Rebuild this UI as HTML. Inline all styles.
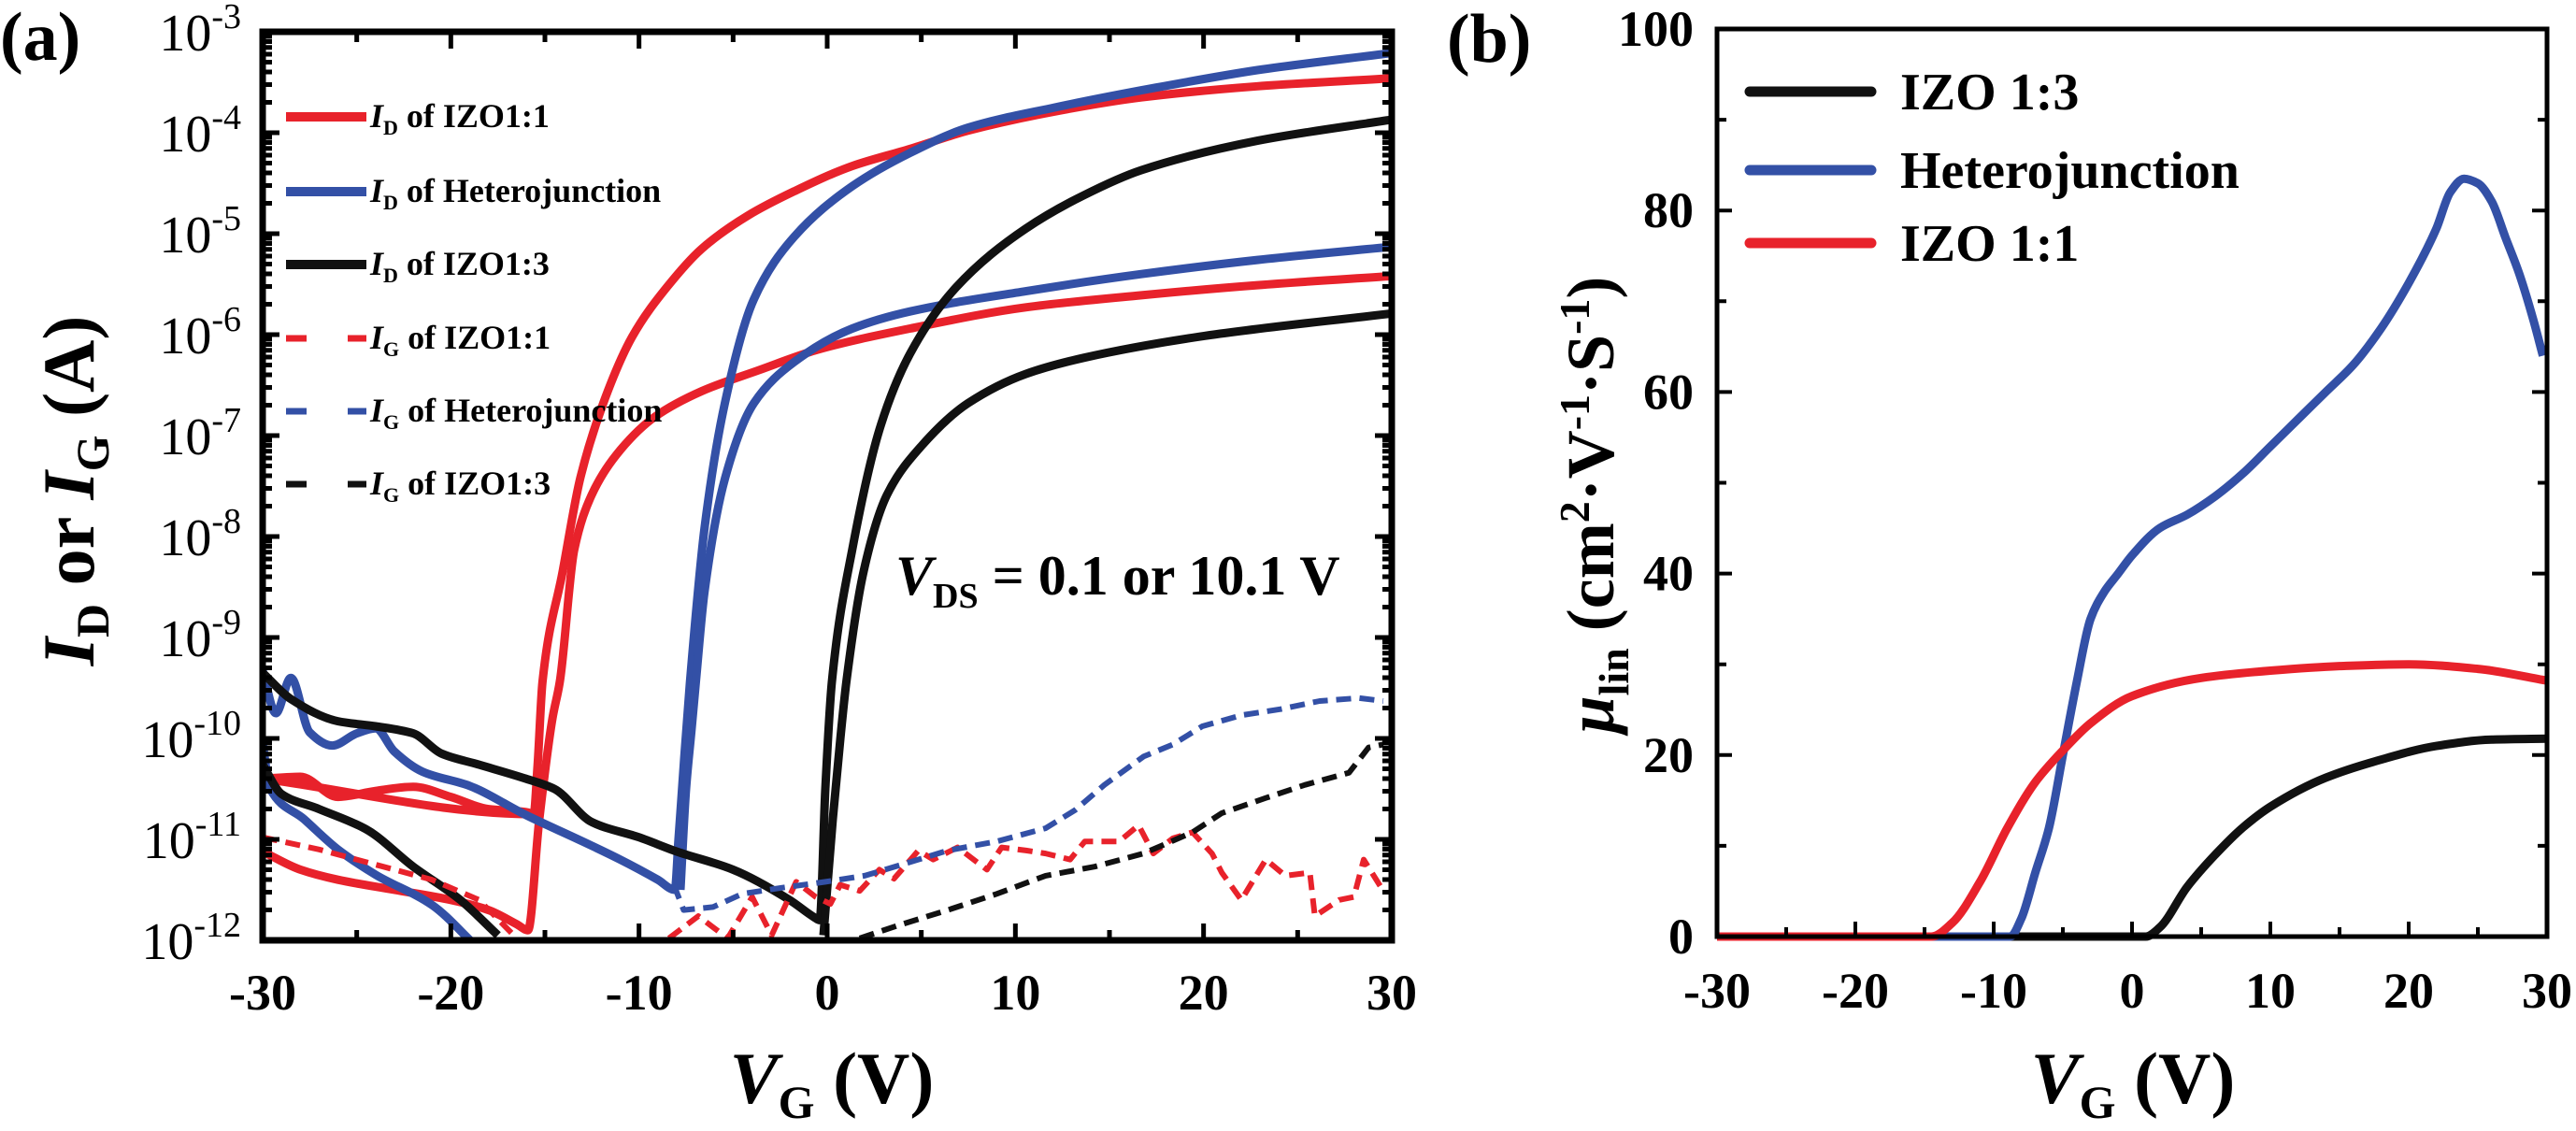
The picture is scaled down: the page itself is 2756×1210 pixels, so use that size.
<!DOCTYPE html>
<html><head><meta charset="utf-8">
<style>
html,body{margin:0;padding:0;background:#fff;}
svg, svg text{font-family:"Liberation Serif",serif;font-weight:bold;}
</style></head>
<body>
<svg id="fig" width="2756" height="1210" viewBox="0 0 2756 1210" xmlns="http://www.w3.org/2000/svg" style="position:absolute;left:0;top:0;font-family:'Liberation Serif',serif">
  <g id="pa"></g>
  <g id="pb"></g>
</svg>
<script>
// ---------- Panel (a) data: [V_G, log10(I)] ----------
const idIzo11HighV = [-30,-15.6,-15.4,-15.13,-14.05,-13.13,-11.9,-10.36,-8.52,-6.67,-4.21,-1.75,1.33,4.4,7.48,12.09,16.7,22.86,30];
const idIzo11HighL = [-10.4,-10.75,-10.3,-9.44,-8.34,-7.43,-6.68,-6.02,-5.53,-5.15,-4.82,-4.58,-4.33,-4.16,-3.98,-3.79,-3.65,-3.54,-3.46];
const idIzo11OffV = [-30,-28,-26,-24,-22,-20,-18,-16,-15.6];
const idIzo11OffL = [-10.4,-10.38,-10.58,-10.52,-10.48,-10.58,-10.7,-10.73,-10.75];
const idIzo11LowV = [-30,-28,-26,-23,-20,-18,-16.5,-15.9,-15.3,-14.6,-14.21,-13.44,-12.52,-10.98,-9.13,-6.67,-3.6,-0.52,4.4,10.55,16.7,22.86,30];
const idIzo11LowL = [-11.12,-11.3,-11.4,-11.5,-11.6,-11.7,-11.84,-11.9,-10.8,-9.8,-9.44,-8.13,-7.59,-7.14,-6.81,-6.56,-6.35,-6.15,-5.94,-5.73,-5.61,-5.51,-5.42];
const idHetHighV = [-30,-29.3,-28.5,-27.5,-26.3,-25,-24,-23,-21.5,-19,-16,-13,-11,-9,-8.1,-7.9,-7.6,-7.29,-6.52,-5.44,-3.9,-1.75,1.33,4.4,7.48,12.09,16.7,22.86,30];
const idHetHighL = [-9.33,-9.75,-9.4,-9.94,-10.07,-9.95,-9.9,-10.13,-10.33,-10.47,-10.76,-11.02,-11.2,-11.4,-11.5,-11.0,-10.2,-9.44,-7.92,-6.68,-5.65,-5.03,-4.53,-4.2,-3.95,-3.75,-3.58,-3.38,-3.21];
const idHetLowV = [-30,-29.6,-27.8,-26,-24,-21,-18.7];
const idHetLowL = [-10.05,-10.5,-10.8,-11.1,-11.35,-11.65,-12.05];
const idHetLow2V = [-7.8,-7.5,-7.2,-6.98,-6.52,-5.44,-3.9,-1.75,1.33,4.4,10.55,16.7,22.86,30];
const idHetLow2L = [-11.5,-10.5,-9.9,-9.44,-8.55,-7.43,-6.68,-6.27,-5.94,-5.77,-5.57,-5.4,-5.26,-5.13];
const idIzo13HighV = [-30,-28.5,-26,-24,-22,-20.5,-18.5,-16,-14.5,-12.5,-10,-8,-5,-2,-0.7,-0.4,-0.1,0.25,1.33,2.86,4.4,6.86,10.55,13.63,16.7,22.86,30];
const idIzo13HighL = [-9.35,-9.61,-9.83,-9.88,-9.95,-10.15,-10.26,-10.4,-10.5,-10.83,-10.98,-11.12,-11.3,-11.6,-11.77,-11.8,-10.5,-9.44,-8.13,-6.89,-6.19,-5.53,-4.95,-4.62,-4.37,-4.08,-3.87];
const idIzo13LowV = [-30,-29,-27,-24.5,-22,-19.5,-17.5];
const idIzo13LowL = [-10.26,-10.55,-10.7,-10.9,-11.27,-11.6,-11.95];
const idIzo13Low2V = [-0.2,0.3,0.7,1.02,1.94,3.17,5.02,7.48,10.55,13.63,19.78,30];
const idIzo13Low2L = [-11.95,-10.8,-10.0,-9.44,-8.34,-7.59,-7.1,-6.68,-6.39,-6.23,-6.02,-5.79];
const igIzo11V = [-30,-27,-24,-21,-18.5,-16.5,null,-8.41,-6.85,-5.29,-3.99,-2.95,-1.65,-0.61,0.17,0.69,1.73,2.77,3.55,4.85,5.63,6.93,8.49,9.27,10.57,11.61,12.91,13.69,15.51,16.55,17.33,18.37,19.41,20.45,20.97,22.01,23.31,24.35,25.65,25.91,27.21,27.99,28.51,29.55];
const igIzo11L = [-10.98,-11.1,-11.25,-11.4,-11.6,-11.98,null,-11.98,-11.76,-11.98,-11.57,-11.95,-11.42,-11.57,-11.64,-11.45,-11.51,-11.3,-11.39,-11.11,-11.2,-11.08,-11.3,-11.08,-11.11,-11.14,-11.2,-11.02,-11.02,-10.86,-11.14,-10.99,-10.93,-11.14,-11.33,-11.6,-11.2,-11.36,-11.33,-11.76,-11.6,-11.57,-11.2,-11.51];
const igHetV = [-8.15,-7.63,-6.07,-4.51,-2.43,-0.09,1.99,4.33,6.41,9.01,11.61,13.17,14.73,16.81,18.37,19.93,22.01,24.09,26.17,28.25,29.55];
const igHetL = [-11.45,-11.7,-11.67,-11.54,-11.48,-11.42,-11.36,-11.23,-11.11,-11.02,-10.89,-10.71,-10.46,-10.18,-10.06,-9.88,-9.77,-9.71,-9.63,-9.6,-9.63];
const igIzo13V = [1.73,3.81,6.41,9.01,11.61,14.21,16.81,19.41,20.97,23.31,25.39,27.73,28.77,29.55];
const igIzo13L = [-11.98,-11.85,-11.7,-11.54,-11.36,-11.27,-11.14,-10.93,-10.74,-10.59,-10.46,-10.34,-10.09,-10.06];
const xTicksA = [-30,-20,-10,0,10,20,30];
const yExpA = [-3,-4,-5,-6,-7,-8,-9,-10,-11,-12];

// ---------- Panel (b) data ----------
const mobV_Het = [-30,-8.8,-8,-7,-6,-5,-4,-3,-2,-1,0,2,4,6,8,10,12,14,16,18,20,22,23,24,25,26,27,28,29,29.7];
const mob_Het  = [0,0,2,7,12,20,28,35,38,40,42,45,46.5,48.5,51,54,57,60,63,67,72,78,82,83.5,83,81,77,73,68,64];
const mobV_Izo11 = [-30,-14.5,-13,-11,-9,-7,-5,-3,0,5,10,15,20,25,30];
const mob_Izo11  = [0,0,1.5,6,12,17,20.5,23.5,26.5,28.5,29.3,29.8,30,29.5,28.2];
const mobV_Izo13 = [-30,1,2,4,6,8,10,14,18,22,26,30];
const mob_Izo13  = [0,0,1,5.5,9,12,14.3,17.5,19.5,21,21.7,21.8];
const xTicksB = [-30,-20,-10,0,10,20,30];
const yTicksB = [0,20,40,60,80,100];

const NS = 'http://www.w3.org/2000/svg';
function mk(parent, tag, attrs){ const e=document.createElementNS(NS,tag); for(const k in attrs) e.setAttribute(k,attrs[k]); parent.appendChild(e); return e; }
const RED='#e8222b', BLUE='#3350a6', BLACK='#111';
const FONT = "font-family:'Liberation Serif',serif;font-weight:bold";

const A = {x0:281,x1:1489,y0:34,y1:1006};
const ax = v => A.x0 + (v+30)/60*(A.x1-A.x0);
const ay = l => A.y1 - (l+12)/9*(A.y1-A.y0);
const pa = document.getElementById('pa');

function pathFrom(xs, ys, fx, fy){
  let d='', pen=false;
  for(let i=0;i<xs.length;i++){
    if(xs[i]===null){pen=false;continue;}
    d += (pen?'L':'M') + fx(xs[i]).toFixed(1)+','+fy(ys[i]).toFixed(1)+' ';
    pen=true;
  }
  return d;
}
// monotone cubic (Fritsch-Carlson) in pixel space, x increasing
function smoothFrom(xs, ys, fx, fy){
  const X = xs.map(fx), Y = ys.map(fy), n = X.length;
  const dx=[], s=[];
  for(let i=0;i<n-1;i++){ dx.push(X[i+1]-X[i]); s.push((Y[i+1]-Y[i])/dx[i]); }
  const m = new Array(n);
  m[0]=s[0]; m[n-1]=s[n-2];
  for(let i=1;i<n-1;i++){
    if(s[i-1]*s[i]<=0) m[i]=0;
    else { const w1=2*dx[i]+dx[i-1], w2=dx[i]+2*dx[i-1]; m[i]=(w1+w2)/(w1/s[i-1]+w2/s[i]); }
  }
  let d='M'+X[0].toFixed(1)+','+Y[0].toFixed(1);
  for(let i=0;i<n-1;i++){
    const h=dx[i]/3;
    d+=` C${(X[i]+h).toFixed(1)},${(Y[i]+m[i]*h).toFixed(1)} ${(X[i+1]-h).toFixed(1)},${(Y[i+1]-m[i+1]*h).toFixed(1)} ${X[i+1].toFixed(1)},${Y[i+1].toFixed(1)}`;
  }
  return d;
}
const clipA = mk(pa,'clipPath',{id:'clipA'});
mk(clipA,'rect',{x:A.x0,y:A.y0,width:A.x1-A.x0,height:A.y1-A.y0});
const gA = mk(pa,'g',{'clip-path':'url(#clipA)'});
const seriesA = [
  ['id-izo11-high', idIzo11HighV, idIzo11HighL, RED, false],
  ['id-izo11-off', idIzo11OffV, idIzo11OffL, RED, false],
  ['id-izo11-low', idIzo11LowV, idIzo11LowL, RED, false],
  ['id-het-high', idHetHighV, idHetHighL, BLUE, false],
  ['id-het-low-off', idHetLowV, idHetLowL, BLUE, false],
  ['id-het-low', idHetLow2V, idHetLow2L, BLUE, false],
  ['id-izo13-high', idIzo13HighV, idIzo13HighL, BLACK, false],
  ['id-izo13-low-off', idIzo13LowV, idIzo13LowL, BLACK, false],
  ['id-izo13-low', idIzo13Low2V, idIzo13Low2L, BLACK, false],
  ['ig-izo11', igIzo11V, igIzo11L, RED, true],
  ['ig-het', igHetV, igHetL, BLUE, true],
  ['ig-izo13', igIzo13V, igIzo13L, BLACK, true]
];
seriesA.forEach(s=>{
  const d = s[4] ? pathFrom(s[1],s[2],ax,ay) : smoothFrom(s[1],s[2],ax,ay);
  const p = mk(gA,'path',{d:d,fill:'none',stroke:s[3],'stroke-width':s[4]?6:9,'stroke-linejoin':'round','stroke-dasharray':s[4]?'16 9':'none'});
  
  
});
const frA = mk(pa,'rect',{x:A.x0,y:A.y0,width:A.x1-A.x0,height:A.y1-A.y0,fill:'none',stroke:'#000','stroke-width':7});
 
let tk='';
for(let v=-30; v<=30; v+=5){ const x=ax(v), L=(v%10===0)?18:11; tk+=`M${x},${A.y1}v${-L}M${x},${A.y0}v${L}`; }
for(let e=-12;e<-3;e++){ for(let m=1;m<10;m++){ const y=ay(e+Math.log10(m)), L=m===1?18:10; tk+=`M${A.x0},${y}h${L}M${A.x1},${y}h${-L}`; } }
const tkA = mk(pa,'path',{d:tk,stroke:'#000','stroke-width':5,fill:'none'});
 
xTicksA.forEach(v=>{
  const t=mk(pa,'text',{x:ax(v),y:1080,'text-anchor':'middle','font-size':54,style:FONT});
  t.textContent=String(v);
   
});
yExpA.forEach(e=>{
  const t=mk(pa,'text',{x:258,y:ay(e)+20,'text-anchor':'end','font-size':56,style:"font-family:'Liberation Serif',serif;font-weight:normal"});
  t.innerHTML='10<tspan dy="-24" font-size="38">'+e+'</tspan>';
   
});

const B = {x0:1837,x1:2725,y0:31,y1:1002};
const bx = v => B.x0 + (v+30)/60*(B.x1-B.x0);
const by = m => B.y1 - m/100*(B.y1-B.y0);
const pb = document.getElementById('pb');
[['mobility-izo13',mobV_Izo13,mob_Izo13,BLACK],['mobility-heterojunction',mobV_Het,mob_Het,BLUE],['mobility-izo11',mobV_Izo11,mob_Izo11,RED]].forEach(s=>{
  const p = mk(pb,'path',{d:smoothFrom(s[1],s[2],bx,by),fill:'none',stroke:s[3],'stroke-width':9,'stroke-linejoin':'round'});
  
  
});
const frB = mk(pb,'rect',{x:B.x0,y:B.y0,width:B.x1-B.x0,height:B.y1-B.y0,fill:'none',stroke:'#000','stroke-width':5});
 
let tb='';
for(let v=-30; v<=30; v+=5){ const x=bx(v), L=(v%10===0)?16:10; tb+=`M${x},${B.y1}v${-L}`; }
for(let m=0;m<=100;m+=10){ const y=by(m), L=(m%20===0)?16:10; tb+=`M${B.x0},${y}h${L}M${B.x1},${y}h${-L}`; }
const tkB = mk(pb,'path',{d:tb,stroke:'#000','stroke-width':4,fill:'none'});
 
xTicksB.forEach(v=>{
  const t=mk(pb,'text',{x:bx(v),y:1078,'text-anchor':'middle','font-size':54,style:FONT});
  t.textContent=String(v);
   
});
yTicksB.forEach(m=>{
  const t=mk(pb,'text',{x:1812,y:by(m)+18,'text-anchor':'end','font-size':54,style:FONT});
  t.textContent=String(m);
   
});
</script>
<svg style="position:absolute;left:0;top:0;font-family:'Liberation Serif',serif;font-weight:bold" width="2756" height="1210" xmlns="http://www.w3.org/2000/svg">
  <text x="0" y="64" font-size="74">(a)</text>
  <text x="1548" y="66" font-size="74">(b)</text>
  <g font-size="36">
    <g><line x1="306" y1="125" x2="392" y2="125" stroke="#e8222b" stroke-width="10"/><text x="396" y="136"><tspan font-style="italic">I</tspan><tspan dy="8" font-size="22">D</tspan><tspan dy="-8"> of IZO1:1</tspan></text></g>
    <g><line x1="306" y1="205" x2="392" y2="205" stroke="#3350a6" stroke-width="10"/><text x="396" y="216"><tspan font-style="italic">I</tspan><tspan dy="8" font-size="22">D</tspan><tspan dy="-8"> of Heterojunction</tspan></text></g>
    <g><line x1="306" y1="283" x2="392" y2="283" stroke="#111" stroke-width="10"/><text x="396" y="294"><tspan font-style="italic">I</tspan><tspan dy="8" font-size="22">D</tspan><tspan dy="-8"> of IZO1:3</tspan></text></g>
    <g><line x1="306" y1="362" x2="328" y2="362" stroke="#e8222b" stroke-width="7"/><line x1="372" y1="362" x2="392" y2="362" stroke="#e8222b" stroke-width="7"/><text x="396" y="373"><tspan font-style="italic">I</tspan><tspan dy="8" font-size="22">G</tspan><tspan dy="-8"> of IZO1:1</tspan></text></g>
    <g><line x1="306" y1="440" x2="328" y2="440" stroke="#3350a6" stroke-width="7"/><line x1="372" y1="440" x2="392" y2="440" stroke="#3350a6" stroke-width="7"/><text x="396" y="451"><tspan font-style="italic">I</tspan><tspan dy="8" font-size="22">G</tspan><tspan dy="-8"> of Heterojunction</tspan></text></g>
    <g><line x1="306" y1="518" x2="328" y2="518" stroke="#111" stroke-width="7"/><line x1="372" y1="518" x2="392" y2="518" stroke="#111" stroke-width="7"/><text x="396" y="529"><tspan font-style="italic">I</tspan><tspan dy="8" font-size="22">G</tspan><tspan dy="-8"> of IZO1:3</tspan></text></g>
  </g>
  <text x="958" y="636" font-size="60"><tspan font-style="italic">V</tspan><tspan dy="14" font-size="38">DS</tspan><tspan dy="-14"> = 0.1 or 10.1 V</tspan></text>
  <text transform="translate(100,525) rotate(-90)" text-anchor="middle" font-size="78"><tspan font-style="italic">I</tspan><tspan dy="16" font-size="50">D</tspan><tspan dy="-16"> or </tspan><tspan font-style="italic">I</tspan><tspan dy="16" font-size="50">G</tspan><tspan dy="-16"> (A)</tspan></text>
  <text x="890" y="1180" text-anchor="middle" font-size="78"><tspan font-style="italic">V</tspan><tspan dy="16" font-size="50">G</tspan><tspan dy="-16"> (V)</tspan></text>
  <g font-size="56">
    <g><line x1="1872" y1="98" x2="2002" y2="98" stroke="#111" stroke-width="11" stroke-linecap="round"/><text x="2033" y="117">IZO 1:3</text></g>
    <g><line x1="1872" y1="182" x2="2002" y2="182" stroke="#3350a6" stroke-width="11" stroke-linecap="round"/><text x="2033" y="201">Heterojunction</text></g>
    <g><line x1="1872" y1="260" x2="2002" y2="260" stroke="#e8222b" stroke-width="11" stroke-linecap="round"/><text x="2033" y="279">IZO 1:1</text></g>
  </g>
  <text transform="translate(1726,540) rotate(-90)" text-anchor="middle" font-size="72"><tspan font-style="italic">μ</tspan><tspan dy="16" font-size="46">lin</tspan><tspan dy="-16"> (cm</tspan><tspan dy="-26" font-size="46">2</tspan><tspan dy="26">·V</tspan><tspan dy="-26" font-size="46">-1</tspan><tspan dy="26">·S</tspan><tspan dy="-26" font-size="46">-1</tspan><tspan dy="26">)</tspan></text>
  <text x="2282" y="1180" text-anchor="middle" font-size="78"><tspan font-style="italic">V</tspan><tspan dy="16" font-size="50">G</tspan><tspan dy="-16"> (V)</tspan></text>
</svg>
</body></html>
